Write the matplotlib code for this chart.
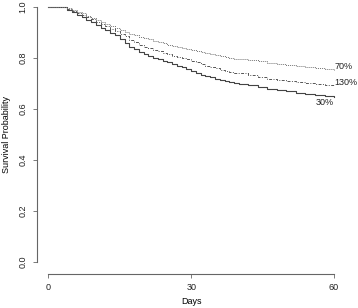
import matplotlib
matplotlib.use("Agg")
import matplotlib.pyplot as plt

days = [0, 3, 4, 5, 6, 7, 8, 9, 10, 11, 12, 13, 14, 15, 16, 17, 18, 19, 20,
        21, 22, 23, 24, 25, 26, 27, 28, 29, 30, 31, 32, 33, 34, 35, 36, 37,
        38, 39, 40, 42, 44, 46, 48, 50, 52, 54, 56, 58, 60]

surv_30 = [1.0, 1.0, 0.99, 0.98, 0.97, 0.96, 0.95, 0.94, 0.93, 0.92, 0.91,
           0.90, 0.89, 0.875, 0.86, 0.845, 0.835, 0.825, 0.815,
           0.808, 0.80, 0.795, 0.79, 0.783, 0.775, 0.77, 0.765, 0.758, 0.75,
           0.742, 0.735, 0.73, 0.725, 0.72, 0.715, 0.71, 0.705, 0.702, 0.70,
           0.693, 0.687, 0.68, 0.675, 0.67, 0.665, 0.66, 0.656, 0.652, 0.647]
surv_130 = [1.0, 1.0, 0.993, 0.985, 0.975, 0.968, 0.96, 0.952, 0.943, 0.934,
            0.925, 0.915, 0.905, 0.895, 0.885, 0.872, 0.862, 0.852, 0.845,
            0.838, 0.832, 0.826, 0.82, 0.815, 0.81, 0.805, 0.80, 0.795, 0.79,
            0.784, 0.778, 0.771, 0.765, 0.76, 0.755, 0.75, 0.746, 0.743,
            0.74, 0.733, 0.727, 0.72, 0.715, 0.71, 0.705, 0.702, 0.698,
            0.694, 0.69]
surv_70 = [1.0, 1.0, 0.995, 0.99, 0.982, 0.975, 0.966, 0.958, 0.95, 0.942,
           0.934, 0.926, 0.918, 0.91, 0.903, 0.896, 0.89, 0.884, 0.878,
           0.873, 0.868, 0.863, 0.858, 0.853, 0.849, 0.844, 0.84, 0.836,
           0.832, 0.827, 0.823, 0.819, 0.815, 0.811, 0.808, 0.804, 0.801,
           0.798, 0.796, 0.791, 0.787, 0.782, 0.777, 0.773, 0.768, 0.764,
           0.76, 0.757, 0.753]

x_ticks = [0, 30, 60]
y_ticks = [0.0, 0.2, 0.4, 0.6, 0.8, 1.0]

plt.rcParams['font.family'] = ['Liberation Sans', 'DejaVu Sans']
plt.rcParams['font.size'] = 6.5

fig = plt.figure(figsize=(3.58, 3.08), dpi=100)
ax = fig.add_axes([0.103, 0.116, 0.862, 0.894])

ax.plot(days, surv_30, drawstyle='steps-post', color='#444444', lw=0.8)
ax.plot(days, surv_130, drawstyle='steps-post', color='#555555', lw=0.7,
        dashes=(3, 1.5, 1, 1.5))
ax.plot(days, surv_70, drawstyle='steps-post', color='#777777', lw=0.7,
        dashes=(1, 1))

ax.text(60, 0.769, '70%', ha='left', va='center', color='#222222')
ax.text(60, 0.706, '130%', ha='left', va='center', color='#222222')
ax.text(60, 0.627, '30%', ha='right', va='center', color='#222222')

ax.set_xlim(-2.4, 62.4)
ax.set_ylim(-0.04, 1.04)
for s in ['top', 'right']:
    ax.spines[s].set_visible(False)
ax.spines['left'].set_bounds(0, 1)
ax.spines['bottom'].set_bounds(0, 60)
ax.spines['bottom'].set_position(('outward', 1))
for s in ['left', 'bottom']:
    ax.spines[s].set_color('#666666')
    ax.spines[s].set_linewidth(0.8)

ax.set_xticks(x_ticks)
ax.set_yticks(y_ticks)
ax.set_yticklabels(['0.0', '0.2', '0.4', '0.6', '0.8', '1.0'],
                   rotation=90, va='center')
ax.tick_params(length=3, width=0.6, color='#666666', labelcolor='#222222',
               pad=4)
ax.set_xlabel('Days', labelpad=3)
ax.set_ylabel('Survival Probability', labelpad=5)

fig.savefig('out.png', dpi=100)
